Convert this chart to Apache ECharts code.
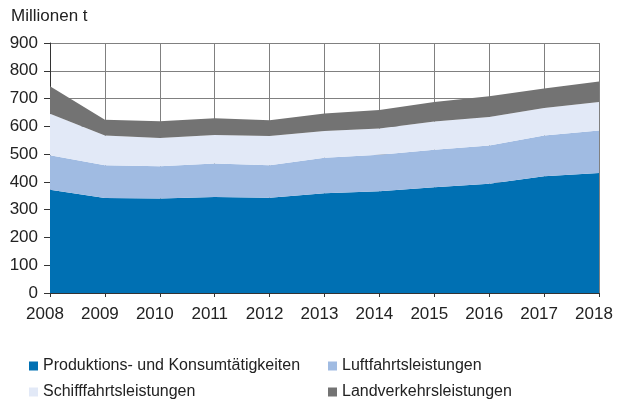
<!DOCTYPE html>
<html>
<head>
<meta charset="utf-8">
<script src="https://cdn.jsdelivr.net/npm/echarts@6/dist/echarts.min.js"></script>
<style>
  html, body { margin: 0; padding: 0; background: #fff; }
  #myChart { width: 619px; height: 400px; }
</style>
</head>
<body>
<div id="myChart"></div>
<script>
var years = ["2008", "2009", "2010", "2011", "2012", "2013", "2014", "2015", "2016", "2017", "2018"];
var produktion = [372, 342, 340, 346, 343, 359, 366, 381, 393, 420, 432];
var luftfahrt = [124, 118, 116, 120, 117, 128, 132, 135, 138, 147, 153];
var schifffahrt = [149, 107, 102, 103, 105, 96, 94, 101, 103, 99, 103];
var landverkehr = [99, 57, 60, 60, 57, 63, 67, 71, 74, 70, 73];

var font = "Liberation Sans, Arial, sans-serif";
var chart = echarts.init(document.getElementById("myChart"));

function areaSeries(name, data, color) {
    return {
        name: name,
        type: "line",
        stack: "total",
        data: data,
        symbol: "none",
        lineStyle: { width: 0 },
        areaStyle: { color: color, opacity: 1 },
        itemStyle: { color: color }
    };
}

// one legend per item, so each sits where the reference puts it
function legendItem(name, left, top) {
    return {
        data: [name],
        left: left,
        top: top,
        padding: 0,
        icon: "rect",
        itemWidth: 9,
        itemHeight: 9,
        selectedMode: false,
        textStyle: { fontSize: 16, color: "#222", fontFamily: font }
    };
}

chart.setOption({
    animation: false,
    textStyle: { fontFamily: font },
    title: {
        text: "Millionen t",
        left: 6,
        top: 3,
        textStyle: { fontSize: 17, fontWeight: "normal", color: "#222", fontFamily: font }
    },
    legend: [
        legendItem("Produktions- und Konsumtätigkeiten", 29, 358),
        legendItem("Luftfahrtsleistungen", 328, 358),
        legendItem("Schifffahrtsleistungen", 29, 384),
        legendItem("Landverkehrsleistungen", 328, 384)
    ],
    grid: { left: 50, right: 20, top: 43, bottom: 107 },
    xAxis: {
        type: "category",
        boundaryGap: false,
        data: years,
        axisLine: { lineStyle: { color: "#333", width: 1 } },
        axisTick: { show: true, length: 4, lineStyle: { color: "#333" } },
        axisLabel: { fontSize: 17, color: "#222", margin: 13, padding: [0, 10, 0, 0], fontFamily: font },
        splitLine: { show: true, lineStyle: { color: "#808080", width: 1 } }
    },
    yAxis: {
        type: "value",
        min: 0,
        max: 900,
        interval: 100,
        axisLine: { show: true, lineStyle: { color: "#333", width: 1 } },
        axisTick: { show: true, length: 6, lineStyle: { color: "#333" } },
        axisLabel: { fontSize: 17, color: "#222", margin: 12, fontFamily: font },
        splitLine: { show: true, lineStyle: { color: "#808080", width: 1 } }
    },
    series: [
        areaSeries("Produktions- und Konsumtätigkeiten", produktion, "#0070b3"),
        areaSeries("Luftfahrtsleistungen", luftfahrt, "#a0bbe2"),
        areaSeries("Schifffahrtsleistungen", schifffahrt, "#e2e9f7"),
        areaSeries("Landverkehrsleistungen", landverkehr, "#737373")
    ]
});
</script>
</body>
</html>
